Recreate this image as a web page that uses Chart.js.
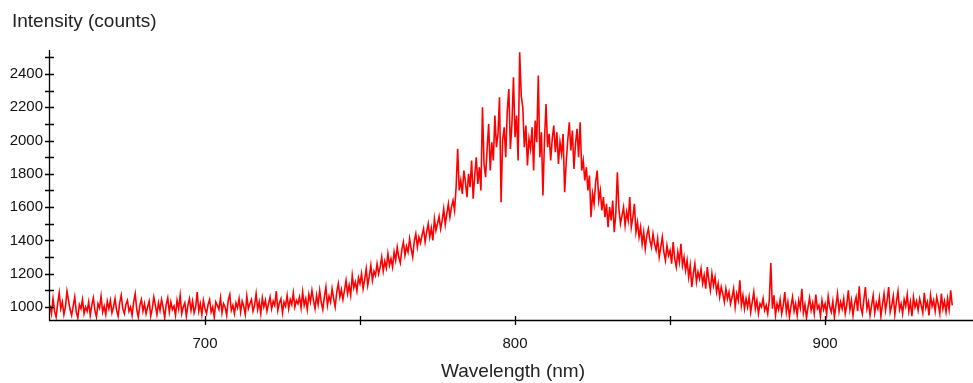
<!DOCTYPE html>
<html>
<head>
<meta charset="utf-8">
<script src="https://cdn.jsdelivr.net/npm/chart.js@4.4.1/dist/chart.umd.min.js"></script>
<style>
  html, body { margin: 0; padding: 0; background: #fff; }
  canvas { display: block; }
</style>
</head>
<body>
<canvas id="spectrum" width="973" height="383"></canvas>
<script>
// sampling grid of the spectrometer (nm)
const lambdaStart = 650;
const lambdaStep = 0.5;

// counts, region by region
const baseLeft = [ // 650.0 - 734.5
    1010, 960, 1050, 975, 940, 1020, 1085, 990, 1030, 955, 1000, 1095, 1040, 985, 950, 1005, 1060, 970, 935, 1015,
    990, 1045, 960, 1000, 975, 1030, 950, 1010, 1055, 980, 940, 1020, 995, 1065, 970, 1005, 955, 1035, 990, 1040,
    965, 1000, 1050, 980, 945, 1025, 1070, 990, 960, 1015, 1040, 975, 1000, 950, 1030, 1080, 985, 940, 1010, 1045,
    975, 1020, 960, 1000, 1035, 945, 990, 1060, 1010, 955, 1025, 980, 1045, 1000, 935, 1015, 1055, 970, 1030, 985,
    1005, 950, 1040, 990, 1070, 960, 1000, 1025, 945, 1010, 1050, 980, 1035, 965, 1000, 1090, 975, 1020, 955, 1040,
    990, 960, 1015, 1045, 970, 1000, 940, 1030, 1010, 985, 1055, 965, 1020, 1000, 950, 1040, 1075, 980, 1010, 960,
    1025, 995, 1050, 970, 1035, 1005, 955, 1065, 990, 1020, 1045, 975, 1010, 1080, 985, 1030, 960, 1055, 1000, 1040,
    975, 1020, 1060, 990, 1035, 1010, 1095, 980, 1025, 1050, 965, 1030, 1005, 1070, 990, 1045, 1015, 1085, 1000, 1040,
    1020, 1060, 995, 1090, 1010, 1050, 985, 1075, 1030, 1100
];
const riseSide = [ // 735.0 - 779.5
    1040, 990, 1070, 1015, 1100, 1030, 985, 1060, 1120, 1010,
    1065, 1030, 1110, 1050, 1000, 1090, 1140, 1060, 1105, 1045,
    1100, 1160, 1080, 1130, 1070, 1190, 1115, 1150, 1095, 1175,
    1140, 1200, 1110, 1165, 1230, 1130, 1185, 1250, 1160, 1215,
    1190, 1260, 1200, 1240, 1300, 1215, 1275, 1235, 1320, 1250,
    1290, 1240, 1330, 1280, 1360, 1300, 1265, 1345, 1390, 1310,
    1365, 1330, 1410, 1350, 1300, 1395, 1440, 1360, 1420, 1385,
    1430, 1470, 1390, 1450, 1500, 1420, 1475, 1400, 1530, 1460,
    1500, 1545, 1470, 1520, 1590, 1495, 1560, 1620, 1540, 1600
];
const peakUp = [ // 780.0 - 799.5
    1640, 1580, 1720, 1950, 1700, 1760, 1680, 1820, 1750, 1660,
    1800, 1720, 1880, 1650, 1790, 1900, 1740, 1840, 1700, 2200,
    1860, 1780, 1950, 2100, 1820, 1990, 1880, 2150, 1960, 2040,
    2260, 1630, 2000, 2080, 1900, 2180, 2310, 1950, 2100, 2380
];
const peakDown = [ // 800.0 - 819.5
    2020, 2150, 1880, 2530, 2270, 2200, 1960, 2090, 1850, 2010,
    1950, 2080, 1820, 2120, 1990, 2390, 1900, 2050, 1670, 2000,
    2220, 1960, 2040, 1880, 2010, 2090, 1930, 2050, 1860, 1990,
    1920, 2040, 1690, 1870, 2000, 2110, 1940, 2060, 1830, 1980
];
const fallSide = [ // 820.0 - 849.5
    2070, 1900, 2110, 1820, 1880, 1760, 1840, 1700, 1790, 1540,
    1680, 1620, 1750, 1820, 1640, 1700, 1580, 1660, 1540, 1620,
    1480, 1600, 1520, 1640, 1450, 1560, 1810, 1590, 1500, 1550,
    1600, 1490, 1570, 1520, 1660, 1480, 1540, 1620, 1450, 1510,
    1420, 1480, 1380, 1450, 1350, 1430, 1470, 1400, 1360, 1440,
    1380, 1340, 1410, 1300, 1360, 1420, 1330, 1280, 1370, 1310
];
const tailSide = [ // 850.0 - 879.5
    1340, 1260, 1390, 1290, 1240, 1330, 1270, 1380, 1250, 1300,
    1220, 1280, 1180, 1250, 1120, 1200, 1260, 1150, 1210, 1170,
    1230, 1140, 1190, 1110, 1240, 1160, 1100, 1200, 1130, 1180,
    1090, 1140, 1060, 1120, 1080, 1030, 1110, 1050, 1090, 1020,
    1060, 1110, 1000, 1080, 1040, 1160, 1010, 1070, 990, 1050,
    1000, 1060, 970, 1030, 1090, 990, 1040, 960, 1020, 1000
];
const baseRight = [ // 880.0 - 941.0
    1050, 980, 1010, 960, 1040, 1265, 990, 1070, 950, 1020,
    985, 1045, 960, 1010, 1090, 970, 1030, 940, 1005, 1060,
    975, 1020, 950, 1040, 995, 1110, 965, 1015, 935, 1000,
    1055, 980, 1025, 960, 1075, 990, 1010, 945, 1040, 985,
    1020, 955, 1065, 1000, 970, 1035, 940, 1010, 1080, 975,
    1030, 990, 1050, 960, 1015, 1100, 985, 1040, 950, 1020,
    1060, 975, 1125, 1000, 960, 1045, 1120, 990, 1030, 950,
    1010, 1070, 965, 1025, 990, 1055, 945, 1015, 1080, 980,
    1040, 1120, 970, 1010, 1065, 955, 1030, 1095, 985, 1020,
    960, 1045, 1005, 1075, 975, 1030, 945, 1060, 1000, 1035,
    980, 1050, 1010, 965, 1085, 995, 1030, 950, 1070, 1005,
    1040, 975, 1060, 1015, 960, 1080, 990, 1035, 970, 1050,
    985, 1100, 1010
];

const counts = [].concat(baseLeft, riseSide, peakUp, peakDown, fallSide, tailSide, baseRight);

// axis ticks
const xTickLabels = [700, 800, 900];
const xTickMarks = [700, 750, 800, 850, 900];
const yTickLabels = [1000, 1200, 1400, 1600, 1800, 2000, 2200, 2400];
const yTickMarks = [1000, 1100, 1200, 1300, 1400, 1500, 1600, 1700, 1800, 1900, 2000, 2100, 2200, 2300, 2400, 2500];

const points = counts.map(function (c, i) {
    return { x: lambdaStart + i * lambdaStep, y: c };
});

// axis lines, crossing tick marks and axis titles
const axisDecor = {
    id: 'axisDecor',
    afterDraw(chart) {
        const ctx = chart.ctx;
        const a = chart.chartArea;
        const x = chart.scales.x;
        const y = chart.scales.y;
        ctx.save();
        ctx.strokeStyle = '#000';
        ctx.lineWidth = 1.3;
        ctx.beginPath();
        ctx.moveTo(a.left + 0.5, a.top);
        ctx.lineTo(a.left + 0.5, a.bottom + 0.5);
        ctx.moveTo(a.left, a.bottom + 0.5);
        ctx.lineTo(a.right, a.bottom + 0.5);
        yTickMarks.forEach(function (v) {
            const py = Math.round(y.getPixelForValue(v)) + 0.5;
            ctx.moveTo(a.left - 4, py);
            ctx.lineTo(a.left + 5, py);
        });
        xTickMarks.forEach(function (v) {
            const px = Math.round(x.getPixelForValue(v)) + 0.5;
            ctx.moveTo(px, a.bottom - 4);
            ctx.lineTo(px, a.bottom + 5);
        });
        ctx.stroke();

        ctx.fillStyle = '#222';
        ctx.font = '19px "Liberation Sans", Arial, sans-serif';
        ctx.textBaseline = 'middle';
        ctx.textAlign = 'left';
        ctx.fillText('Intensity (counts)', 12, 22);
        ctx.textAlign = 'center';
        ctx.fillText('Wavelength (nm)', 513, 372);
        ctx.restore();
    }
};

const tickFont = { family: '"Liberation Sans", Arial, sans-serif', size: 15 };

new Chart(document.getElementById('spectrum'), {
    type: 'line',
    data: {
        datasets: [{
            data: points,
            borderColor: '#ff0000',
            borderWidth: 1.6,
            pointRadius: 0,
            tension: 0,
            fill: false,
        }],
    },
    options: {
        responsive: false,
        animation: false,
        parsing: false,
        layout: { padding: { top: 50, right: 0, left: 0, bottom: 0 } },
        plugins: {
            legend: { display: false },
            tooltip: { enabled: false },
        },
        scales: {
            x: {
                type: 'linear',
                min: 649.7,
                max: 947.7,
                grid: { display: false, drawTicks: false, tickLength: 0 },
                border: { display: false },
                ticks: {
                    font: tickFont,
                    color: '#111',
                    padding: 15,
                    maxRotation: 0,
                    autoSkip: false,
                    callback: function (v) { return String(v); },
                },
                afterBuildTicks: function (s) { s.ticks = xTickLabels.map(function (v) { return { value: v }; }); },
                afterFit: function (s) { s.height = 63; },
            },
            y: {
                type: 'linear',
                min: 922,
                max: 2544,
                grid: { display: false, drawTicks: false, tickLength: 0 },
                border: { display: false },
                ticks: {
                    font: tickFont,
                    color: '#111',
                    padding: 6,
                    autoSkip: false,
                    callback: function (v) { return String(v); },
                },
                afterBuildTicks: function (s) { s.ticks = yTickLabels.map(function (v) { return { value: v }; }); },
                afterFit: function (s) { s.width = 49; },
            },
        },
    },
    plugins: [axisDecor],
});
</script>
</body>
</html>
